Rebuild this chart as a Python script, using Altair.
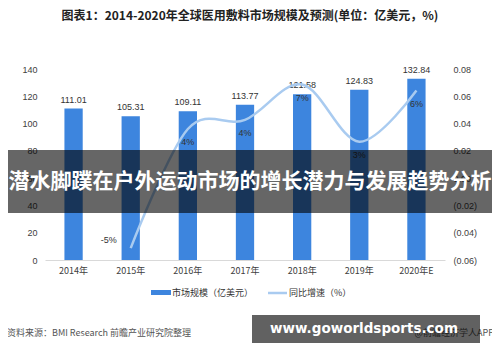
import altair as alt
import pandas as pd

years = ["2014年", "2015年", "2016年", "2017年", "2018年", "2019年", "2020年E"]
market_size = [111.01, 105.31, 109.11, 113.77, 121.58, 124.83, 132.84]
growth_years = ["2015年", "2016年", "2017年", "2018年", "2019年", "2020年E"]
growth = [-0.0513, 0.036, 0.0427, 0.0686, 0.0267, 0.0642]
growth_labels = ["-5%", "4%", "4%", "7%", "3%", "6%"]

bars_df = pd.DataFrame({"year": years, "size": market_size, "label": [f"{v:.2f}" for v in market_size]})
line_df = pd.DataFrame({"year": growth_years, "growth": growth, "label": growth_labels})

FONT = "Noto Sans CJK SC"
BAR = "#3d85de"
LINE = "#a9cbf0"

x_enc = alt.X("year:N", sort=years, scale=alt.Scale(domain=years, paddingInner=0.68, paddingOuter=0.34),
              axis=alt.Axis(title=None, labelAngle=0, ticks=False, domainColor="#d9d9d9",
                            labelFontSize=9, labelColor="#404040", labelPadding=6, labelFont=FONT))
x_plain = alt.X("year:N", sort=years, scale=alt.Scale(domain=years))

ly = alt.Scale(domain=[0, 140], nice=False, zero=True)
ry = alt.Scale(domain=[-0.06, 0.08], nice=False, zero=False)

bars = alt.Chart(bars_df).mark_bar(color=BAR).encode(
    x=x_enc,
    y=alt.Y("size:Q", scale=ly, axis=alt.Axis(orient="left", title=None, values=list(range(0, 141, 20)),
                                               grid=False, ticks=False, domain=False, labelFontSize=9,
                                               labelColor="#404040", labelPadding=8)),
)
bar_text = alt.Chart(bars_df).mark_text(dy=-9, fontSize=9, color="#333333", font="Arial").encode(
    x=x_plain, y=alt.Y("size:Q", scale=ly, axis=None), text="label:N")

line = alt.Chart(line_df).mark_line(color=LINE, strokeWidth=2.5, interpolate="cardinal").encode(
    x=x_plain,
    y=alt.Y("growth:Q", scale=ry, axis=alt.Axis(orient="right", title=None,
                                                 values=[-0.06, -0.04, -0.02, 0, 0.02, 0.04, 0.06, 0.08],
                                                 labelExpr="datum.value < -0.0001 ? '(' + format(-datum.value, '.2f') + ')' : format(datum.value, '.2f')",
                                                 grid=False, ticks=False, domain=False, labelFontSize=9,
                                                 labelColor="#404040", labelPadding=8)),
)
line_text_a = alt.Chart(line_df).transform_filter("datum.year == '2015年'").mark_text(
    dx=-22, dy=-8, fontSize=9, color="#333333", font="Arial").encode(
    x=x_plain, y=alt.Y("growth:Q", scale=ry, axis=None), text="label:N")
line_text_b = alt.Chart(line_df).transform_filter("datum.year != '2015年'").mark_text(
    dy=13, fontSize=9, color="#333333", font="Arial").encode(
    x=x_plain, y=alt.Y("growth:Q", scale=ry, axis=None), text="label:N")


def txt(s, x, y, **kw):
    return alt.Chart(pd.DataFrame({"t": [s]})).mark_text(**kw).encode(
        text="t:N", x=alt.value(x), y=alt.value(y))


def box(x, x2, y, y2, **kw):
    return alt.Chart(pd.DataFrame({"a": [0]})).mark_rect(**kw).encode(
        x=alt.value(x), x2=alt.value(x2), y=alt.value(y), y2=alt.value(y2))


title = txt("图表1：2014-2020年全球医用敷料市场规模及预测(单位：亿美元，%)", 205, -53,
            font=FONT, fontSize=12, fontWeight="bold", color="#222222", align="center", baseline="middle")

leg_rect = box(106, 126, 221, 226, color=BAR)
leg_text1 = txt("市场规模（亿美元）", 127, 224, font=FONT, fontSize=9, color="#333333", align="left", baseline="middle")
leg_line = alt.Chart(pd.DataFrame({"a": [0]})).mark_rule(color=LINE, strokeWidth=2.5).encode(
    x=alt.value(223), x2=alt.value(242), y=alt.value(224))
leg_text2 = txt("同比增速（%）", 244, 224, font=FONT, fontSize=9, color="#333333", align="left", baseline="middle")

source = txt("资料来源：BMI Research 前瞻产业研究院整理", -38, 264, font=FONT, fontSize=9, color="#555555",
             align="left", baseline="middle")
app = txt("@前瞻经济学人APP", 449, 264, font=FONT, fontSize=9, color="#555555", align="right", baseline="middle")

banner = box(-37, 447, 81, 144, color="black", opacity=0.6)
banner_text = txt("潜水脚蹼在户外运动市场的增长潜力与发展趋势分析", 205, 113, font=FONT, fontSize=21,
                  fontWeight="bold", color="white", align="center", baseline="middle")

banner2 = box(207, 435, 246, 274, color="black", opacity=0.62)
banner2_text = txt("www.goworldsports.com", 319, 260, font="DejaVu Sans", fontSize=13.5, fontWeight="bold",
                   color="white", align="center", baseline="middle")

chart = alt.layer(
    bars, bar_text, line, line_text_a, line_text_b,
    title, leg_rect, leg_text1, leg_line, leg_text2, source, app,
    banner, banner_text, banner2, banner2_text,
).resolve_scale(y="independent").properties(
    width=400, height=191,
    autosize=alt.AutoSizeParams(type="none"),
    padding={"left": 37, "top": 61, "right": 47, "bottom": 94},
    background="white",
).configure_view(stroke=None)

chart.save("out.html", embed_options={"renderer": "svg", "actions": False})
